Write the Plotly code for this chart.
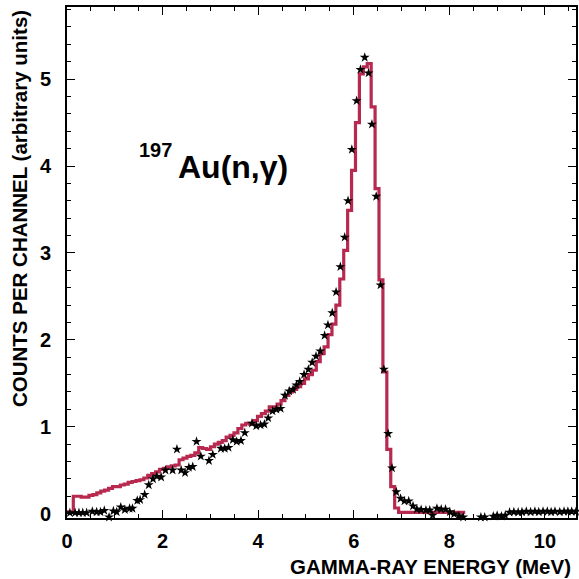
import plotly.graph_objects as go

# Simulated histogram (red steps): uniform bins
BIN_START = -0.032
BIN_WIDTH = 0.082
hist_values = [
    0.02, 0.02, 0.20, 0.20, 0.19, 0.19,
    0.21, 0.22, 0.24, 0.26, 0.27, 0.29,
    0.31, 0.31, 0.33, 0.34, 0.36, 0.37,
    0.38, 0.39, 0.41, 0.44, 0.46, 0.48,
    0.51, 0.52, 0.54, 0.55, 0.56, 0.62,
    0.64, 0.66, 0.67, 0.70, 0.76, 0.75,
    0.74, 0.77, 0.80, 0.82, 0.84, 0.88,
    0.90, 0.93, 0.98, 1.02, 1.04, 1.03,
    1.07, 1.12, 1.15, 1.18, 1.23, 1.23,
    1.26, 1.30, 1.36, 1.40, 1.43, 1.46,
    1.50, 1.55, 1.60, 1.65, 1.75, 1.84,
    1.92, 2.06, 2.18, 2.40, 2.70, 3.03,
    3.49, 3.95, 4.50, 5.06, 5.14, 5.18,
    4.68, 3.74, 2.69, 1.63, 0.74, 0.31,
    0.065,
    0.015, 0.015, 0.015, 0.015, 0.015, 0.015, 0.015, 0.015, 0.015,
    0.015, 0.015, 0.015, 0.015, 0.015, 0.015, 0.015, 0.015,
]

# Measured data (stars)
star_energy = [
    0.06, 0.17, 0.25, 0.33, 0.41, 0.53, 0.62, 0.70, 0.78, 0.88,
    0.97, 1.04, 1.125, 1.21, 1.31, 1.37, 1.47, 1.53, 1.625, 1.71,
    1.80, 1.88, 1.97, 2.06, 2.21, 2.30, 2.39, 2.47, 2.55, 2.63,
    2.71, 2.80, 2.97, 3.05, 3.22, 3.30, 3.38, 3.47, 3.55, 3.64,
    3.72, 3.87, 3.96, 4.05, 4.13, 4.21, 4.30, 4.38, 4.47, 4.56,
    4.65, 4.73, 4.80, 4.87, 4.96, 5.05, 5.13, 5.21, 5.30, 5.39,
    5.46, 5.55, 5.63, 5.72, 5.81, 5.88, 5.96, 6.06, 6.14, 6.23,
    6.31, 6.38, 6.47, 6.56, 6.63, 6.72, 6.80, 6.89, 6.98, 7.06,
    7.15, 7.24, 7.32, 7.41, 7.51, 7.59, 7.65, 7.74, 7.83, 7.92,
    8.01, 8.10, 8.20, 8.29, 8.40, 8.49, 8.57, 8.66, 8.74, 8.83,
    8.92, 9.00, 9.09, 9.17, 9.26, 9.35, 9.44, 9.52, 9.61, 9.70,
    9.79, 9.87, 9.96, 10.05, 10.13, 10.21, 10.31, 10.40, 10.48, 10.56,
    10.65,
]
star_counts = [
    0.01, 0.01, 0.01, 0.01, 0.01, 0.025, 0.02, 0.02, 0.035, -0.04,
    0.03, 0.02, 0.075, 0.045, 0.06, 0.06, 0.15, 0.16, 0.22, 0.33,
    0.40, 0.43, 0.42, 0.50, 0.50, 0.74, 0.50, 0.47, 0.53, 0.54,
    0.83, 0.66, 0.61, 0.68, 0.75, 0.75, 0.76, 0.85, 0.83, 0.84,
    0.93, 1.04, 1.01, 1.02, 1.03, 1.10, 1.18, 1.20, 1.21, 1.36,
    1.41, 1.43, 1.48, 1.52, 1.60, 1.66, 1.74, 1.81, 1.87, 2.05,
    2.17, 2.31, 2.55, 2.84, 3.18, 3.60, 4.19, 4.75, 5.11, 5.25,
    5.07, 4.48, 3.65, 2.63, 1.66, 0.92, 0.525, 0.25, 0.175, 0.145,
    0.145, 0.088, 0.052, 0.045, 0.04, 0.04, -0.02, 0.06, 0.05, 0.05,
    0.02, -0.005, -0.025, -0.04, -0.06, -0.055, -0.06, -0.04, -0.04, -0.06,
    -0.03, -0.02, -0.03, -0.02, 0.015, 0.02, 0.015, 0.02, 0.025, 0.02,
    0.025, 0.02, 0.025, 0.025, 0.02, 0.025, 0.02, 0.025, 0.025, 0.025,
    0.025,
]

x_tickvals = [0, 2, 4, 6, 8, 10]
y_tickvals = [0, 1, 2, 3, 4, 5]

hist_edges = [BIN_START + BIN_WIDTH * i for i in range(len(hist_values) + 1)]
hist_y = hist_values + [hist_values[-1]]

FONT = "Liberation Sans, Arial, sans-serif"
RED = "#B8294F"

fig = go.Figure()
fig.add_trace(go.Scatter(
    x=hist_edges, y=hist_y, mode="lines", line_shape="hv",
    line=dict(color=RED, width=3.2), hoverinfo="skip",
))
fig.add_trace(go.Scatter(
    x=star_energy, y=star_counts, mode="markers",
    marker=dict(symbol="star", size=7.5, color="black", line=dict(width=0)),
    cliponaxis=False,
))

axis_common = dict(
    showline=True, linecolor="black", linewidth=1.6, mirror="ticks",
    ticks="inside", ticklen=8, tickwidth=1, tickcolor="black",
    showgrid=False, zeroline=False,
    tickfont=dict(family=FONT, size=20, color="black", weight="bold"),
)

fig.update_xaxes(range=[0, 10.65], tickvals=x_tickvals, ticktext=[str(v) for v in x_tickvals],
                 minor=dict(dtick=0.5, ticklen=4, ticks="inside", tickcolor="black", showgrid=False),
                 ticklabelstandoff=4, **axis_common)
fig.update_yaxes(range=[-0.05, 5.83], tickvals=y_tickvals, ticktext=[str(v) for v in y_tickvals],
                 minor=dict(dtick=0.2, ticklen=4, ticks="inside", tickcolor="black", showgrid=False),
                 ticklabelstandoff=10, **axis_common)

fig.update_layout(
    width=579, height=579,
    margin=dict(l=67, r=1, t=7, b=61),
    plot_bgcolor="white", paper_bgcolor="white",
    showlegend=False,
    annotations=[
        dict(text="GAMMA-RAY ENERGY (MeV)", xref="paper", yref="paper", x=0.994, y=-0.094,
             xanchor="right", yanchor="middle", showarrow=False,
             font=dict(family=FONT, size=20.5, color="black", weight="bold")),
        dict(text="COUNTS PER CHANNEL (arbitrary units)", xref="paper", yref="paper", x=-0.092, y=0.605,
             xanchor="center", yanchor="middle", textangle=-90, showarrow=False,
             font=dict(family=FONT, size=20.5, color="black", weight="bold")),
        dict(text="197", xref="paper", yref="paper", x=0.138, y=0.721,
             xanchor="left", yanchor="middle", showarrow=False,
             font=dict(family=FONT, size=20, color="black", weight="bold")),
        dict(text="Au(n,γ)", xref="paper", yref="paper", x=0.215, y=0.687,
             xanchor="left", yanchor="middle", showarrow=False,
             font=dict(family=FONT, size=32, color="black", weight="bold")),
    ],
)

fig.write_html("out.html", config={"displayModeBar": False},
               post_script="document.body.style.margin='0px';")
